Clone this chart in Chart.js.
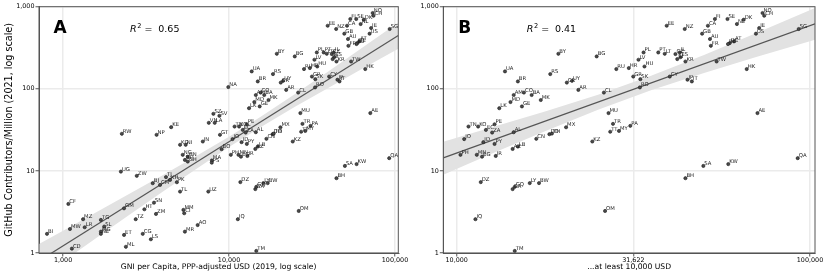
<!DOCTYPE html>
<html>
<head>
<meta charset="utf-8">
<script src="https://cdn.jsdelivr.net/npm/chart.js@4.4.1/dist/chart.umd.min.js"></script>
<style>
  body { margin: 0; background: #fff; width: 830px; height: 277px; position: relative; overflow: hidden; }
  .panel { position: absolute; top: 0; width: 415px; height: 277px; }
  #wrapA { left: 0; }
  #wrapB { left: 415px; }
</style>
</head>
<body>
<div class="panel" id="wrapA"><canvas id="chartA" width="415" height="277"></canvas></div>
<div class="panel" id="wrapB"><canvas id="chartB" width="415" height="277"></canvas></div>
<script>
'use strict';

// country codes, GNI per capita (PPP USD, 2019), GitHub contributors per million (2021)
let codes = [
    'EE', 'FI', 'SE', 'NO', 'CH', 'DK', 'NZ', 'CA', 'GB', 'NL', 'IE', 'US', 'SG', 'AU', 'AT', 'DE',
    'FR', 'BE', 'TW', 'HK', 'PL', 'PT', 'LT', 'CZ', 'IL', 'ES', 'SI', 'KR', 'LV', 'HU', 'HR', 'GR',
    'SK', 'CY', 'JP', 'IT', 'RO', 'AE', 'QA', 'KW', 'SA', 'BH', 'OM', 'BY', 'BG', 'RU', 'UA', 'RS',
    'UY', 'CR', 'BR', 'AR', 'CL', 'CO', 'AM', 'BA', 'MK', 'MD', 'GE', 'LK', 'MU', 'TR', 'PA', 'TT',
    'MY', 'KZ', 'MX', 'DO', 'TH', 'PE', 'EC', 'TN', 'KO', 'ZA', 'AL', 'JO', 'ID', 'PY', 'CN', 'LB',
    'AZ', 'PH', 'MN', 'EG', 'IR', 'DZ', 'GA', 'GQ', 'LY', 'BW', 'IQ', 'TM',
    'NA', 'SZ', 'SV', 'VN', 'LA', 'KE', 'RW', 'NP', 'GT', 'IN', 'KG', 'NI', 'BO', 'NG', 'HN', 'BD',
    'GH', 'MA', 'PS', 'UG', 'ZW', 'TJ', 'KH', 'PK', 'BJ', 'CM', 'TL', 'UZ', 'SN', 'CF', 'GM', 'HT',
    'MM', 'CI', 'ZM', 'TZ', 'MZ', 'TG', 'AO', 'SL', 'LR', 'MW', 'MR', 'MG', 'NE', 'BI', 'CG', 'ET',
    'LS', 'ML', 'CD'
];
let gni = [
    39300, 53800, 58400, 73400, 74200, 64900, 44200, 51400, 49500, 62100, 71800, 70300, 92900, 52100, 60900, 59300,
    52400, 58600, 54400, 66200, 33800, 37200, 38800, 41600, 42800, 43000, 42100, 44400, 32700, 34000, 30700, 31600,
    33100, 40100, 45000, 46300, 33000, 71000, 92300, 58700, 49900, 44400, 26300, 19400, 24900, 28300, 13700, 18400,
    21200, 20500, 14900, 22100, 26100, 15500, 14500, 16300, 17300, 14200, 15300, 13200, 26900, 27700, 31000, 27200,
    28800, 24200, 20400, 18300, 18600, 12800, 12100, 10800, 11500, 12600, 14500, 10500, 11900, 12800, 16800, 14900,
    14400, 10250, 11400, 11800, 12900, 11700, 14400, 14600, 16100, 17100, 11300, 14600,
    9900, 8050, 8750, 7550, 8200, 4480, 2260, 3660, 8820, 6950, 5070, 5480, 9020, 5260, 5640, 5420,
    5640, 7880, 7870, 2230, 2780, 4170, 4410, 4850, 3470, 3840, 5070, 7500, 3530, 1076, 2330, 3090,
    5310, 5370, 3630, 2740, 1320, 1690, 6470, 1770, 1350, 1100, 5420, 1690, 1690, 800, 3020, 2330,
    3380, 2390, 1130
];
let contrib = [
    586, 708, 708, 838, 776, 694, 535, 586, 469, 615, 550, 469, 535, 404, 378, 361,
    334, 351, 215, 174, 277, 277, 267, 265, 277, 243, 230, 215, 226, 187, 179, 141,
    131, 141, 129, 123, 104, 50.6, 14.3, 12.1, 11.5, 8.15, 3.25, 267, 248, 174, 163, 151,
    125, 119, 123, 97, 90, 90, 84, 84, 73, 69, 61, 58, 50.6, 37.4, 35.4, 30,
    30.7, 22.8, 34, 28, 28.5, 37, 31.6, 34.7, 34.7, 29.3, 29.6, 24.4, 22.4, 21.3, 24.6, 19.8,
    18.5, 15.7, 15.7, 14.9, 15.2, 7.3, 6.0, 6.4, 7.1, 7.1, 2.58, 1.06,
    105, 49.6, 46.9, 38.5, 38.5, 34.1, 28.3, 27.5, 27.5, 22.8, 20.8, 20.8, 18.4, 15.7, 14.9, 13.6,
    13.0, 13.4, 12.6, 9.8, 8.7, 8.4, 7.77, 7.28, 7.08, 6.75, 5.6, 5.6, 4.1, 3.96, 3.5, 3.41,
    3.35, 3.05, 2.99, 2.58, 2.58, 2.53, 2.19, 2.1, 2.06, 1.96, 1.82, 1.82, 1.71, 1.71, 1.71, 1.66,
    1.47, 1.19, 1.13
];

// regression fits and confidence bands
let fitAX = [716, 104700];
let fitAY = [0.80, 445];
let bandAX = [716, 1000, 1585, 2512, 3981, 6310, 10000, 15850, 25120, 39810, 63100, 104700];
let bandAUp = [1.29, 1.87, 3.13, 5.26, 8.85, 15.1, 26.1, 46.9, 87.1, 164, 314, 643];
let bandALo = [0.49, 0.79, 1.52, 2.92, 5.56, 10.5, 19.5, 35.1, 60.8, 103, 174, 308];

let fitBX = [9165, 103300];
let fitBY = [14.4, 618];
let bandBX = [9165, 12590, 17780, 25120, 35480, 50120, 70790, 103300];
let bandBUp = [22.7, 34.0, 53.0, 84.9, 144, 258, 481, 964];
let bandBLo = [9.0, 16.3, 30.5, 55.6, 96.2, 156, 245, 396];

let xTicksA = [1000, 10000, 100000];
let xTicksB = [10000, 31622, 100000];
let yTicks = [1, 10, 100, 1000];

Chart.defaults.font.family = '"DejaVu Sans", sans-serif';
Chart.defaults.color = '#000';

function pairs(xs, ys) {
    let out = [];
    for (let i = 0; i < xs.length; i++) {
        out.push({ x: xs[i], y: ys[i] });
    }
    return out;
}

// labels next to the dots, frame, panel letter and R^2 text
const decor = {
    id: 'decor',
    afterDatasetsDraw(chart, args, opts) {
        let ctx = chart.ctx;
        let area = chart.chartArea;
        let meta = chart.getDatasetMeta(0);
        let names = chart.data.datasets[0].codes;
        ctx.save();
        ctx.font = '5.3px "DejaVu Sans"';
        ctx.fillStyle = '#222';
        ctx.textBaseline = 'alphabetic';
        ctx.textAlign = 'left';
        meta.data.forEach((pt, i) => {
            ctx.fillText(names[i], pt.x + 1, pt.y - 1);
        });

        ctx.strokeStyle = '#555';
        ctx.lineWidth = 1;
        ctx.strokeRect(area.left, area.top, area.right - area.left, area.bottom - area.top);

        ctx.fillStyle = '#000';
        ctx.font = 'bold 17px "DejaVu Sans"';
        ctx.fillText(opts.letter, opts.letterX, 32.7);

        let x0 = opts.r2X;
        ctx.font = 'italic 9.5px "DejaVu Sans"';
        ctx.fillText('R', x0, 31.7);
        ctx.font = '6.6px "DejaVu Sans"';
        ctx.fillText('2', x0 + 7.2, 27.5);
        ctx.font = '9.5px "DejaVu Sans"';
        ctx.fillText('=', x0 + 14.5, 31.7);
        ctx.fillText(opts.r2, x0 + 28.3, 31.7);
        ctx.restore();
    }
};

function makeChart(id, sel, fitX, fitY, bX, bUp, bLo, xr, xTicks, yTitle, xTitle, yWidth, rightPad, deco) {
    let pts = [];
    let names = [];
    for (let i = 0; i < codes.length; i++) {
        if (sel(gni[i])) {
            pts.push({ x: gni[i], y: contrib[i] });
            names.push(codes[i]);
        }
    }

    return new Chart(document.getElementById(id), {
        type: 'scatter',
        data: {
            datasets: [{
                data: pts,
                codes: names,
                pointRadius: 1.6,
                backgroundColor: '#4a4a4a',
                borderColor: '#1a1a1a',
                borderWidth: 0.6
            }, {
                type: 'line',
                data: pairs(fitX, fitY),
                borderColor: '#555',
                borderWidth: 1.2,
                pointRadius: 0,
                fill: false
            }, {
                type: 'line',
                data: pairs(bX, bUp),
                borderWidth: 0,
                borderColor: 'rgba(0,0,0,0)',
                pointRadius: 0,
                backgroundColor: '#e2e2e2',
                fill: '+1'
            }, {
                type: 'line',
                data: pairs(bX, bLo),
                borderWidth: 0,
                borderColor: 'rgba(0,0,0,0)',
                pointRadius: 0,
                fill: false
            }]
        },
        options: {
            responsive: false,
            animation: false,
            events: [],
            layout: { padding: { top: 6.7, right: rightPad, left: 0, bottom: 0 } },
            plugins: {
                legend: { display: false },
                tooltip: { enabled: false },
                decor: deco
            },
            scales: {
                x: {
                    type: 'logarithmic',
                    min: xr[0],
                    max: xr[1],
                    afterBuildTicks: s => { s.ticks = xTicks.map(v => ({ value: v })); },
                    afterFit: s => { s.height = 24; },
                    ticks: {
                        callback: v => Number(v).toLocaleString('en-US'),
                        font: { size: 6.4 },
                        maxRotation: 0,
                        autoSkip: false,
                        padding: 0
                    },
                    grid: { color: '#ebebeb', lineWidth: 1.5, tickLength: 3.5, tickColor: '#555', tickWidth: 1 },
                    border: { color: '#555', width: 1 },
                    title: { display: true, text: xTitle, font: { size: 7.65 }, padding: { top: 0, bottom: 5 } }
                },
                y: {
                    type: 'logarithmic',
                    min: 1,
                    max: 1000,
                    afterBuildTicks: s => { s.ticks = yTicks.map(v => ({ value: v })); },
                    afterFit: s => { s.width = yWidth; },
                    ticks: {
                        callback: v => Number(v).toLocaleString('en-US'),
                        font: { size: 6.4 },
                        autoSkip: false,
                        padding: 1
                    },
                    grid: { color: '#ebebeb', lineWidth: 1.5, tickLength: 3.5, tickColor: '#555', tickWidth: 1 },
                    border: { color: '#555', width: 1 },
                    title: { display: yTitle !== '', text: yTitle, font: { size: 9.6 }, padding: { top: 4, bottom: 0 } }
                }
            }
        },
        plugins: [decor]
    });
}

makeChart('chartA', g => true, fitAX, fitAY, bandAX, bandAUp, bandALo, [716, 104700], xTicksA,
    'GitHub Contributors/Million (2021, log scale)',
    'GNI per Capita, PPP-adjusted USD (2019, log scale)',
    39, 16.7, { letter: 'A', letterX: 53.5, r2: '0.65', r2X: 130 });

makeChart('chartB', g => g >= 10000, fitBX, fitBY, bandBX, bandBUp, bandBLo, [9165, 103300], xTicksB,
    '',
    '...at least 10,000 USD',
    28.3, 15, { letter: 'B', letterX: 43.3, r2: '0.41', r2X: 111.7 });
</script>
</body>
</html>
